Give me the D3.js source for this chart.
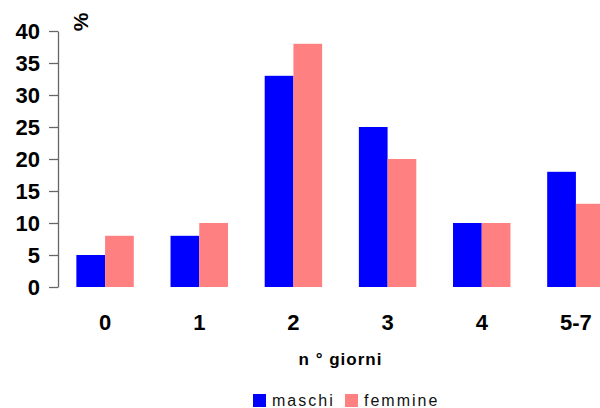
<!DOCTYPE html>
<html>
<head>
<meta charset="utf-8">
<script src="https://cdn.jsdelivr.net/npm/d3@7/dist/d3.min.js"></script>
<style>
  html, body { margin: 0; padding: 0; background: #fff; }
  svg { display: block; font-family: "Liberation Sans", Arial, sans-serif; }
</style>
</head>
<body>
<svg id="chart" width="600" height="408"></svg>
<script>
// Giorni di attività: percentuale per sesso
const categories = ["0", "1", "2", "3", "4", "5-7"];
const seriesNames = ["maschi", "femmine"];
const maschi = [5, 8, 33, 25, 10, 18];
const femmine = [8, 10, 38, 20, 10, 13];
const yTicks = [0, 5, 10, 15, 20, 25, 30, 35, 40];
const colors = { maschi: "#0000FF", femmine: "#FF8080" };

const svg = d3.select("#chart");

const plot = { left: 58, right: 623, top: 31, bottom: 287 };

const x = d3.scaleBand()
  .domain(categories)
  .range([plot.left, plot.right])
  .paddingInner(0.39)
  .paddingOuter(0.195);

const xs = d3.scaleBand()
  .domain(seriesNames)
  .range([0, x.bandwidth()]);

const y = d3.scaleLinear()
  .domain([0, 40])
  .range([plot.bottom, plot.top]);

const rows = categories.map((c, i) => ({ cat: c, maschi: maschi[i], femmine: femmine[i] }));

// bars
const groups = svg.append("g")
  .selectAll("g")
  .data(rows)
  .join("g")
  .attr("transform", d => `translate(${x(d.cat)},0)`);

groups.selectAll("rect")
  .data(d => seriesNames.map(s => ({ s, v: d[s] })))
  .join("rect")
  .attr("x", d => xs(d.s))
  .attr("width", xs.bandwidth())
  .attr("y", d => y(d.v))
  .attr("height", d => y(0) - y(d.v))
  .attr("fill", d => colors[d.s]);

// y axis
const yAxis = svg.append("g")
  .attr("transform", `translate(${plot.left},0)`)
  .call(d3.axisLeft(y).tickValues(yTicks).tickSize(9).tickSizeOuter(0).tickPadding(9));
yAxis.select(".domain").attr("stroke", "#666").attr("stroke-width", 1.3);
yAxis.selectAll(".tick line").attr("stroke", "#666").attr("stroke-width", 1.3);
yAxis.selectAll(".tick text")
  .attr("fill", "#000")
  .style("font-size", "22px")
  .style("font-weight", "bold")
  .style("font-family", "'Liberation Sans', Arial, sans-serif");

// unit label
svg.append("text")
  .attr("transform", "translate(88,22) rotate(-90)")
  .attr("text-anchor", "middle")
  .style("font-size", "21px")
  .style("font-weight", "bold")
  .text("%");

// category labels
svg.append("g")
  .selectAll("text")
  .data(categories)
  .join("text")
  .attr("x", d => x(d) + x.bandwidth() / 2)
  .attr("y", 330)
  .attr("text-anchor", "middle")
  .style("font-size", "22px")
  .style("font-weight", "bold")
  .text(d => d);

// x axis title
svg.append("text")
  .attr("x", (plot.left + plot.right) / 2)
  .attr("y", 365)
  .attr("text-anchor", "middle")
  .style("font-size", "17px")
  .style("font-weight", "bold")
  .style("letter-spacing", "1px")
  .text("n ° giorni");

// legend
const legendItems = [
  { name: "maschi", x: 253 },
  { name: "femmine", x: 345 }
];
const legend = svg.append("g");
legend.selectAll("rect")
  .data(legendItems)
  .join("rect")
  .attr("x", d => d.x)
  .attr("y", 394)
  .attr("width", 13)
  .attr("height", 13)
  .attr("fill", d => colors[d.name]);
legend.selectAll("text")
  .data(legendItems)
  .join("text")
  .attr("x", d => d.x + 19)
  .attr("y", 406)
  .style("font-size", "16px")
  .style("letter-spacing", "2px")
  .attr("fill", "#111")
  .text(d => d.name);
</script>
</body>
</html>
